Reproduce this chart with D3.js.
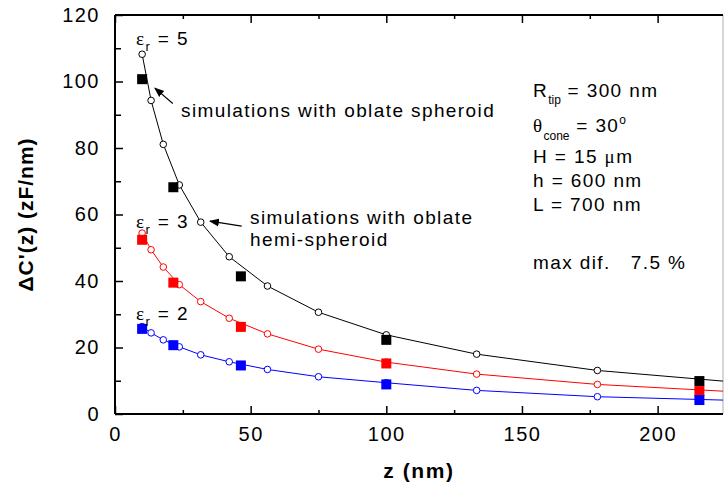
<!DOCTYPE html>
<html>
<head>
<meta charset="utf-8">
<script src="https://cdn.jsdelivr.net/npm/d3@7"></script>
<style>
  body { margin: 0; background: #fff; }
  svg { font-family: Arial, "Liberation Sans", sans-serif; }
  .sym { font-family: "Liberation Serif", "Times New Roman", serif; }
  .note { letter-spacing: 1.4px; }
</style>
</head>
<body>
<div id="chart"></div>
<script>
// calculated curves (open circles joined by lines)
var zCalc = [10, 13.3, 17.8, 23.7, 31.6, 42.1, 56.2, 75, 100, 133.3, 177.8, 237];
var calcEps5 = [108.2, 94.3, 81.1, 68.9, 57.7, 47.3, 38.5, 30.6, 23.8, 18.0, 13.1, 9.0];
var calcEps3 = [54.4, 49.4, 44.2, 38.9, 33.8, 28.8, 24.1, 19.5, 15.6, 12.0, 8.9, 6.3];
var calcEps2 = [26.3, 24.4, 22.3, 20.2, 17.8, 15.7, 13.4, 11.2, 9.4, 7.1, 5.2, 3.9];

// simulations with oblate spheroid (filled squares)
var zSim = [10, 21.5, 46.4, 100, 215.4];
var simEps5 = [100.7, 68.2, 41.4, 22.3, 9.9];
var simEps3 = [52.4, 39.5, 26.2, 15.2, 6.9];
var simEps2 = [25.6, 20.7, 14.6, 8.9, 4.2];

var xTicks = [0, 50, 100, 150, 200];
var yTicks = [0, 20, 40, 60, 80, 100, 120];

var W = 725, H = 492,
    margin = {left: 115, top: 15, right: 2, bottom: 78},
    pw = W - margin.left - margin.right,
    ph = H - margin.top - margin.bottom;

var svg = d3.select("#chart").append("svg")
    .attr("width", W)
    .attr("height", H);

var x = d3.scaleLinear().domain([0, 224.1]).range([margin.left, margin.left + pw]);
var y = d3.scaleLinear().domain([0, 120]).range([margin.top + ph, margin.top]);

svg.append("clipPath").attr("id", "plot-clip")
    .append("rect")
    .attr("x", margin.left).attr("y", margin.top)
    .attr("width", pw).attr("height", ph);

// axes
function styleAxis(g) {
    g.select(".domain").remove();
    g.selectAll(".tick line").attr("stroke", "#000").attr("stroke-width", 1.5);
}
function styleLabels(g) {
    g.selectAll("text")
        .attr("font-size", 20)
        .attr("fill", "#000")
        .attr("font-family", "Arial, 'Liberation Sans', sans-serif")
        .style("letter-spacing", "1.5px");
}

var xMinor = d3.range(25, 225, 50);
var yMinor = d3.range(10, 120, 20);

svg.append("g")
    .attr("transform", "translate(0," + (margin.top + ph) + ")")
    .call(d3.axisBottom(x).tickValues(xTicks).tickSize(-8).tickPadding(13).tickFormat(d3.format("d")))
    .call(styleAxis)
    .call(styleLabels);
svg.append("g")
    .attr("transform", "translate(0," + (margin.top + ph) + ")")
    .call(d3.axisBottom(x).tickValues(xMinor).tickSize(-4).tickFormat(""))
    .call(styleAxis);
svg.append("g")
    .attr("transform", "translate(0," + margin.top + ")")
    .call(d3.axisTop(x).tickValues(xTicks).tickSize(-8).tickFormat(""))
    .call(styleAxis);
svg.append("g")
    .attr("transform", "translate(0," + margin.top + ")")
    .call(d3.axisTop(x).tickValues(xMinor).tickSize(-4).tickFormat(""))
    .call(styleAxis);

svg.append("g")
    .attr("transform", "translate(" + margin.left + ",0)")
    .call(d3.axisLeft(y).tickValues(yTicks).tickSize(-8).tickPadding(15).tickFormat(d3.format("d")))
    .call(styleAxis)
    .call(styleLabels);
svg.append("g")
    .attr("transform", "translate(" + margin.left + ",0)")
    .call(d3.axisLeft(y).tickValues(yMinor).tickSize(-6).tickFormat(""))
    .call(styleAxis);

// frame
svg.append("line").attr("x1", margin.left + pw).attr("x2", margin.left + pw)
    .attr("y1", margin.top).attr("y2", margin.top + ph)
    .attr("stroke", "#c8c8c8").attr("stroke-width", 1.5);
svg.append("line").attr("x1", margin.left).attr("x2", margin.left + pw)
    .attr("y1", margin.top).attr("y2", margin.top)
    .attr("stroke", "#000").attr("stroke-width", 2);
svg.append("line").attr("x1", margin.left).attr("x2", margin.left + pw)
    .attr("y1", margin.top + ph).attr("y2", margin.top + ph)
    .attr("stroke", "#000").attr("stroke-width", 2);
svg.append("line").attr("x1", margin.left).attr("x2", margin.left)
    .attr("y1", margin.top).attr("y2", margin.top + ph)
    .attr("stroke", "#000").attr("stroke-width", 2);

// axis titles
svg.append("text")
    .attr("x", x(112)).attr("y", 478)
    .attr("text-anchor", "middle")
    .attr("font-size", 21).attr("font-weight", "bold")
    .style("letter-spacing", "1.6px")
    .text("z (nm)");
svg.append("text")
    .attr("transform", "translate(33," + y(60) + ") rotate(-90)")
    .attr("text-anchor", "middle")
    .attr("font-size", 21).attr("font-weight", "bold")
    .style("letter-spacing", "1px")
    .text("\u0394C'(z) (zF/nm)");

// data
var series = [
    {calc: calcEps5, sim: simEps5, color: "#000"},
    {calc: calcEps3, sim: simEps3, color: "#ff0000"},
    {calc: calcEps2, sim: simEps2, color: "#0000ff"}
];

var line = d3.line()
    .x(function(d, i) { return x(zCalc[i]); })
    .y(function(d) { return y(d); });

var plot = svg.append("g").attr("clip-path", "url(#plot-clip)");
var SQ = 10;

series.forEach(function(s) {
    plot.append("path")
        .datum(s.calc)
        .attr("d", line)
        .attr("fill", "none")
        .attr("stroke", s.color)
        .attr("stroke-width", 1);
    plot.selectAll(null)
        .data(s.calc)
        .enter().append("circle")
        .attr("cx", function(d, i) { return x(zCalc[i]); })
        .attr("cy", function(d) { return y(d); })
        .attr("r", 3.3)
        .attr("fill", "#fff")
        .attr("stroke", s.color)
        .attr("stroke-width", 1);
});

series.forEach(function(s) {
    plot.selectAll(null)
        .data(s.sim)
        .enter().append("rect")
        .attr("x", function(d, i) { return x(zSim[i]) - SQ / 2; })
        .attr("y", function(d) { return y(d) - SQ / 2; })
        .attr("width", SQ)
        .attr("height", SQ)
        .attr("fill", s.color);
});

// annotations
function epsLabel(px, py, val) {
    var t = svg.append("text").attr("class", "note").attr("x", px).attr("y", py).attr("font-size", 19);
    t.append("tspan").attr("class", "sym").text("\u03b5");
    t.append("tspan").attr("font-size", 13).attr("dy", 6).text("r");
    t.append("tspan").attr("dy", -6).text(" = " + val);
}
epsLabel(136, 45, 5);
epsLabel(136, 228, 3);
epsLabel(136, 320, 2);

svg.append("defs").append("marker")
    .attr("id", "arrowhead")
    .attr("viewBox", "0 0 10 10")
    .attr("refX", 9).attr("refY", 5)
    .attr("markerWidth", 10).attr("markerHeight", 10)
    .attr("markerUnits", "userSpaceOnUse")
    .attr("orient", "auto")
    .append("path").attr("d", "M0,1 L10,5 L0,9 Z").attr("fill", "#000");

var arrows = [
    {from: [21.3, 93.4], to: [14.7, 98.0]},
    {from: [46.7, 56.5], to: [35.0, 58.0]}
];
arrows.forEach(function(a) {
    svg.append("line")
        .attr("x1", x(a.from[0])).attr("y1", y(a.from[1]))
        .attr("x2", x(a.to[0])).attr("y2", y(a.to[1]))
        .attr("stroke", "#000").attr("stroke-width", 1.2)
        .attr("marker-end", "url(#arrowhead)");
});

svg.append("text").attr("class", "note").attr("x", 181).attr("y", 117).attr("font-size", 19)
    .text("simulations with oblate spheroid");
svg.append("text").attr("class", "note").attr("x", 250).attr("y", 224).attr("font-size", 19)
    .text("simulations with oblate");
svg.append("text").attr("class", "note").attr("x", 250).attr("y", 246).attr("font-size", 19)
    .text("hemi-spheroid");

// parameters block
var px = 533;
var t1 = svg.append("text").attr("class", "note").attr("x", px).attr("y", 97).attr("font-size", 19);
t1.append("tspan").text("R");
t1.append("tspan").attr("font-size", 12).attr("dy", 7).style("letter-spacing", "0px").text("tip");
t1.append("tspan").attr("dy", -7).text(" = 300 nm");

var t2 = svg.append("text").attr("class", "note").attr("x", px).attr("y", 132).attr("font-size", 19);
t2.append("tspan").attr("class", "sym").text("\u03b8");
t2.append("tspan").attr("font-size", 12).attr("dy", 8).style("letter-spacing", "0px").text("cone");
t2.append("tspan").attr("dy", -8).text(" = 30");
t2.append("tspan").attr("font-size", 12).attr("dy", -8).text("o");

var t3 = svg.append("text").attr("class", "note").attr("x", px).attr("y", 163).attr("font-size", 19);
t3.append("tspan").text("H = 15 ");
t3.append("tspan").attr("class", "sym").text("\u03bc");
t3.append("tspan").text("m");

svg.append("text").attr("class", "note").attr("x", px).attr("y", 187).attr("font-size", 19).text("h = 600 nm");
svg.append("text").attr("class", "note").attr("x", px).attr("y", 211).attr("font-size", 19).text("L = 700 nm");
svg.append("text").attr("class", "note").attr("x", px).attr("y", 269).attr("font-size", 19)
    .style("white-space", "pre")
    .text("max dif.   7.5 %");
</script>
</body>
</html>
